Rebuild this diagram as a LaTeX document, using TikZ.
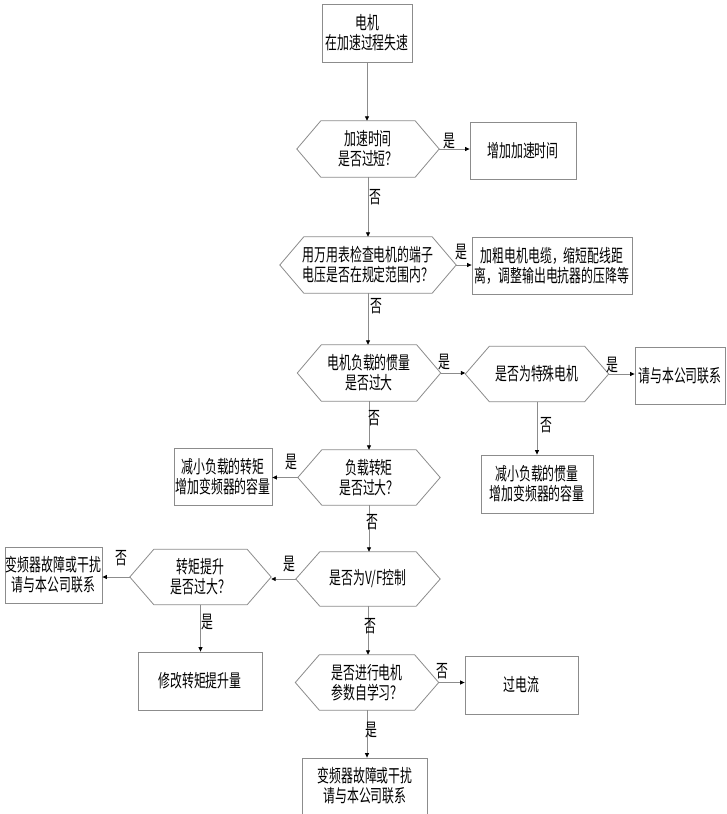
\documentclass[tikz,border=0pt]{standalone}
\usepackage{fontspec}
\newfontfamily\cjk[FakeStretch=0.66]{Noto Sans CJK SC}
\usetikzlibrary{arrows.meta}
\tikzset{
  ln/.style={draw=black!45, line width=0.8pt},
  arr/.style={draw=black!45, line width=0.8pt, -{Triangle[length=4.5pt,width=4pt,color=black]}},
  txt/.style={font=\cjk\fontsize{18}{20}\selectfont, align=center, inner sep=0pt},
  boxn/.style={txt, draw=black!45, line width=0.8pt},
  hexn/.style={txt},
  lab/.style={font=\cjk\fontsize{18}{20}\selectfont, inner sep=0pt}
}
\newcommand\hexshape[1]{\draw[ln] (#1.west) -- ([xshift=24pt]#1.north west) -- ([xshift=-24pt]#1.north east) -- (#1.east) -- ([xshift=-24pt]#1.south east) -- ([xshift=24pt]#1.south west) -- cycle;}
\begin{document}
\begin{tikzpicture}[x=1pt,y=-1pt]
\useasboundingbox[fill=white] (0,0) rectangle (726,814);
% nodes
\node[boxn, minimum width=90, minimum height=58] (s) at (367,33) {电机\\在加速过程失速};
\node[hexn, minimum width=142, minimum height=56] (h1) at (368,149) {加速时间\\是否过短？};
\node[boxn, minimum width=106, minimum height=57] (b1) at (523,150.5) {增加加速时间};
\node[hexn, minimum width=176, minimum height=56] (h2) at (368,265) {用万用表检查电机的端子\\电压是否在规定范围内？};
\node[boxn, minimum width=160, minimum height=57] (b2) at (552,265.5) {加粗电机电缆，缩短配线距\\离，调整输出电抗器的压降等};
\node[hexn, minimum width=143, minimum height=56] (h3) at (369,373) {电机负载的惯量\\是否过大};
\node[hexn, minimum width=143, minimum height=55] (h4) at (537,374) {是否为特殊电机};
\node[boxn, minimum width=90, minimum height=57] (b3) at (680,376) {请与本公司联系};
\node[boxn, minimum width=112, minimum height=58] (b4) at (537,484) {减小负载的惯量\\增加变频器的容量};
\node[hexn, minimum width=142, minimum height=55] (h5) at (369,477.5) {负载转矩\\是否过大？};
\node[boxn, minimum width=98, minimum height=57] (b5) at (223,476.5) {减小负载的转矩\\增加变频器的容量};
\node[hexn, minimum width=144, minimum height=54] (h6) at (368,579) {是否为V/F控制};
\node[hexn, minimum width=141, minimum height=55] (h7) at (200.5,577) {转矩提升\\是否过大？};
\node[boxn, minimum width=97, minimum height=56] (b6) at (53.5,575) {变频器故障或干扰\\请与本公司联系};
\node[boxn, minimum width=124, minimum height=58] (b7) at (200,681) {修改转矩提升量};
\node[hexn, minimum width=143, minimum height=55] (h8) at (367,682.5) {是否进行电机\\参数自学习？};
\node[boxn, minimum width=113, minimum height=58] (b8) at (521.5,685) {过电流};
\node[boxn, minimum width=125, minimum height=56] (b9) at (365,786) {变频器故障或干扰\\请与本公司联系};
% hexagons
\hexshape{h1}\hexshape{h2}\hexshape{h3}\hexshape{h4}\hexshape{h5}\hexshape{h6}\hexshape{h7}\hexshape{h8}
% connectors
\draw[arr] (s.south) -- (s.south |- h1.north);
\draw[arr] (h1.east) -- (h1.east -| b1.west);
\draw[arr] (h1.south) -- (h1.south |- h2.north);
\draw[arr] (h2.east) -- (h2.east -| b2.west);
\draw[arr] (h2.south) -- (h2.south |- h3.north);
\draw[arr] (h3.east) -- (h3.east -| h4.west);
\draw[arr] (h4.east) -- (h4.east -| b3.west);
\draw[arr] (h4.south) -- (h4.south |- b4.north);
\draw[arr] (h3.south) -- (h3.south |- h5.north);
\draw[arr] (h5.west) -- (h5.west -| b5.east);
\draw[arr] (h5.south) -- (h5.south |- h6.north);
\draw[arr] (h6.west) -- (h6.west -| h7.east);
\draw[arr] (h7.west) -- (h7.west -| b6.east);
\draw[arr] (h7.south) -- (h7.south |- b7.north);
\draw[arr] (h6.south) -- (h6.south |- h8.north);
\draw[arr] (h8.east) -- (h8.east -| b8.west);
\draw[arr] (h8.south) -- (h8.south |- b9.north);
% labels
\node[lab] (l1) at (449,141) {是};
\node[lab] (l2) at (375,197) {否};
\node[lab] (l3) at (461,252) {是};
\node[lab] (l4) at (376,306) {否};
\node[lab] (l5) at (444,362) {是};
\node[lab] (l6) at (612,365) {是};
\node[lab] (l7) at (546,425) {否};
\node[lab] (l8) at (374,418) {否};
\node[lab] (l9) at (291,462) {是};
\node[lab] (l10) at (372,522) {否};
\node[lab] (l11) at (289,564) {是};
\node[lab] (l12) at (121,558) {否};
\node[lab] (l13) at (207,622) {是};
\node[lab] (l14) at (370,626) {否};
\node[lab] (l15) at (442,671) {否};
\node[lab] (l16) at (371,730) {是};
\end{tikzpicture}
\end{document}
